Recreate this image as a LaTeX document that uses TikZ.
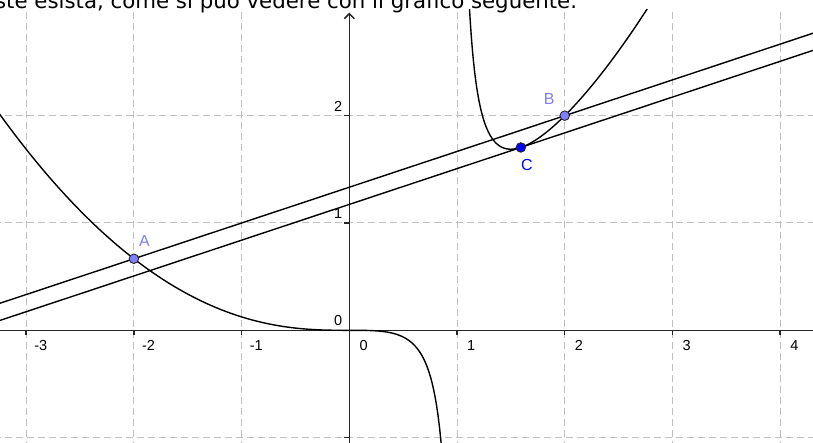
\documentclass[tikz,border=0pt]{standalone}
\usepackage{fontspec}
\setmainfont{Liberation Sans}
\newfontfamily\webfont{DejaVu Sans}
\usepackage{xcolor}
\usepackage{tikz}
\usetikzlibrary{arrows.meta}
\definecolor{GridGray}{HTML}{C0C0C0}
\definecolor{PathViolet}{HTML}{7F7FFF}
\definecolor{FreeBlue}{HTML}{0000FF}
\definecolor{AxisDark}{HTML}{252525}

\begin{document}
\begin{tikzpicture}[
    x=107.7pt, y=107.3pt,
    gridline/.style={GridGray, line width=1pt, dash pattern=on 7pt off 4pt},
    axisline/.style={AxisDark, line width=1.5pt},
    curve/.style={black, line width=1.4pt},
    ticklabel/.style={inner sep=0pt, font=\fontsize{14.5}{16}\selectfont},
    pathpoint/.style={circle, draw=black!85, line width=0.9pt, fill=PathViolet, minimum size=9.5pt, inner sep=0pt},
    freepoint/.style={pathpoint, fill=FreeBlue},
    pointlabel/.style={inner sep=0pt, font=\fontsize{16}{18}\selectfont}
]

\useasboundingbox (-3.243,-1.041) rectangle (4.305,3.078);
\clip (-3.243,-1.041) rectangle (4.305,3.078);
\fill[white] (-3.243,-1.041) rectangle (4.305,3.078);

\node[anchor=base west, inner sep=0pt, font=\webfont\fontsize{21.3}{25}\selectfont] (caption) at (-3.29,3.0) {ste esista, come si può vedere con il grafico seguente.};

\begin{scope}
\clip (-3.243,-1.041) rectangle (4.305,2.985);
\foreach \k in {-3,-2,-1,1,2,3,4}
    \draw[gridline] (\k,-1.1) -- (\k,2.985);
\foreach \k in {-1,1,2}
    \draw[gridline] (-3.3,\k) -- (4.4,\k);

\coordinate (xstart) at (-3.3,0);
\coordinate (xend) at (4.4,0);
\coordinate (ybottom) at (0,-1.1);
\coordinate (ytop) at (0,2.96);
\draw[axisline] (xstart) -- (xend);
\draw[axisline, -{Straight Barb[length=5pt, width=10pt]}] (ybottom) -- (ytop);
\foreach \k in {-3,-2,-1,1,2,3,4}
    \draw[axisline] (\k,0) -- ++(0,-5pt);
\foreach \k in {-1,1,2}
    \draw[axisline] (0,\k) -- ++(-5pt,0);

\foreach \k in {-3,-2,-1}
    \node[ticklabel, anchor=north west] (xl\k) at ([xshift=8pt, yshift=-10pt]\k,0) {\k};
\foreach \k in {0,1,2,3,4}
    \node[ticklabel, anchor=north west] (xl\k) at ([xshift=10pt, yshift=-10pt]\k,0) {\k};
\foreach \k in {0,1,2}
    \node[ticklabel, anchor=south east] (yl\k) at ([xshift=-7pt, yshift=4pt]0,\k) {\k};

\draw[curve] plot[domain=-3.3:0.87, samples=300] (\x, {(\x)*(\x)*(\x)/(4*((\x)-1))});
\draw[curve] plot[domain=1.1:2.8, samples=200] (\x, {(\x)*(\x)*(\x)/(4*((\x)-1))});

\coordinate (upperL) at (-3.3,0.2333);
\coordinate (upperR) at (4.4,2.8);
\coordinate (lowerL) at (-3.3,0.0732);
\coordinate (lowerR) at (4.4,2.6399);
\draw[curve] (upperL) -- (upperR);
\draw[curve] (lowerL) -- (lowerR);
\end{scope}

\node[pathpoint] (A) at (-2,0.6667) {};
\node[pathpoint] (B) at (2,2) {};
\node[freepoint] (C) at (1.5922,1.7039) {};
\node[pointlabel, text=PathViolet, anchor=south west] (labelA) at ([xshift=5pt, yshift=12pt]A.center) {A};
\node[pointlabel, text=PathViolet, anchor=south east] (labelB) at ([xshift=-10pt, yshift=11pt]B.center) {B};
\node[pointlabel, text=FreeBlue, anchor=north west] (labelC) at ([xshift=0pt, yshift=-12pt]C.center) {C};

\end{tikzpicture}
\end{document}
